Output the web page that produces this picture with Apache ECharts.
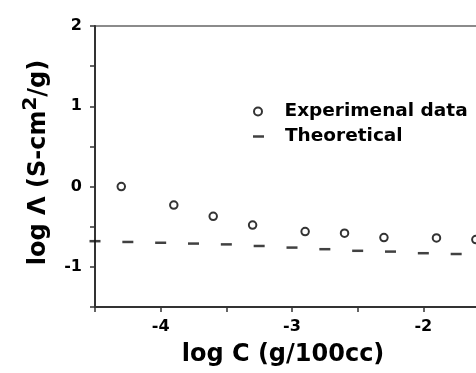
<!DOCTYPE html>
<html>
<head>
<meta charset="utf-8">
<script src="https://cdn.jsdelivr.net/npm/echarts@6/dist/echarts.min.js"></script>
<style>html,body{margin:0;padding:0;background:#fff;}#c{width:476px;height:373px;}</style>
</head>
<body>
<div id="c"></div>
<script>
// Data
var expX = [-4.3, -3.9, -3.6, -3.3, -2.9, -2.6, -2.3, -1.9, -1.6];
var expY = [0.00, -0.23, -0.37, -0.48, -0.56, -0.58, -0.635, -0.64, -0.66];
var theoX = [-4.5, -4.25, -4.0, -3.75, -3.5, -3.25, -3.0, -2.75, -2.5, -2.25, -2.0, -1.75];
var theoY = [-0.68, -0.69, -0.70, -0.71, -0.72, -0.74, -0.76, -0.78, -0.80, -0.81, -0.83, -0.84];
var seriesNames = ['Experimenal data', 'Theoretical'];
var xTitle = 'log C (g/100cc)';
var xRange = [-4.5, -1.5];
var yRange = [-1.5, 2];

var F = 'DejaVu Sans';
function pairs(xs, ys) { return xs.map(function (x, i) { return [x, ys[i]]; }); }
function intLabel(v) { return Math.abs(v - Math.round(v)) < 1e-9 ? String(Math.round(v)) : ''; }

var chart = echarts.init(document.getElementById('c'), null, {renderer: 'canvas'});
chart.setOption({
  animation: false,
  backgroundColor: '#fff',
  grid: {left: 95, top: 26, width: 394, height: 281, containLabel: false, outerBoundsMode: 'none',
         show: true, borderColor: '#666', borderWidth: 1.5, backgroundColor: 'transparent'},
  legend: [
    {data: [seriesNames[0]], left: 248, top: 97, itemWidth: 11, itemHeight: 8, orient: 'vertical',
     textStyle: {fontFamily: F, fontWeight: 'bold', fontSize: 18.5, color: '#000', padding: [0, 0, 0, 16]}},
    {data: [seriesNames[1]], left: 248, top: 122, itemWidth: 11, itemHeight: 2.5, orient: 'vertical',
     textStyle: {fontFamily: F, fontWeight: 'bold', fontSize: 18.5, color: '#000', padding: [0, 0, 0, 16]}}
  ],
  xAxis: {
    type: 'value', min: xRange[0], max: xRange[1], interval: 0.5,
    name: xTitle, nameLocation: 'middle', nameGap: 36,
    nameTextStyle: {fontFamily: F, fontWeight: 'bold', fontSize: 24, color: '#000', padding: [0, 18, 0, 0]},
    axisLine: {show: true, onZero: false, lineStyle: {color: '#333', width: 2}},
    axisTick: {show: true, inside: false, length: 5, lineStyle: {color: '#333', width: 1.5}},
    axisLabel: {formatter: intLabel, fontFamily: F, fontWeight: 'bold', fontSize: 16, color: '#000', margin: 12},
    splitLine: {show: false}
  },
  yAxis: {
    type: 'value', min: yRange[0], max: yRange[1], interval: 0.5,
    name: '{a|log Λ (S-cm}{s|2}{a|/g)}', nameLocation: 'middle', nameGap: 44,
    nameTextStyle: {
      fontFamily: F, fontWeight: 'bold', fontSize: 24, color: '#000', padding: [0, 0, 0, 8],
      rich: {
        a: {fontFamily: F, fontWeight: 'bold', fontSize: 24, color: '#000', lineHeight: 30, verticalAlign: 'bottom'},
        s: {fontFamily: F, fontWeight: 'bold', fontSize: 20, color: '#000', lineHeight: 22, verticalAlign: 'top'}
      }
    },
    axisLine: {show: true, onZero: false, lineStyle: {color: '#333', width: 2}},
    axisTick: {show: true, inside: false, length: 5, lineStyle: {color: '#333', width: 1.5}},
    axisLabel: {formatter: intLabel, fontFamily: F, fontWeight: 'bold', fontSize: 16, color: '#000', margin: 13},
    splitLine: {show: false}
  },
  series: [
    {name: seriesNames[0], type: 'scatter', data: pairs(expX, expY), symbol: 'emptyCircle', symbolSize: 7.5,
     itemStyle: {color: '#000', borderColor: '#000', borderWidth: 1.5}},
    {name: seriesNames[1], type: 'scatter', data: pairs(theoX, theoY), symbol: 'rect', symbolSize: [11, 2.5],
     itemStyle: {color: '#111'}}
  ]
});
</script>
</body>
</html>
